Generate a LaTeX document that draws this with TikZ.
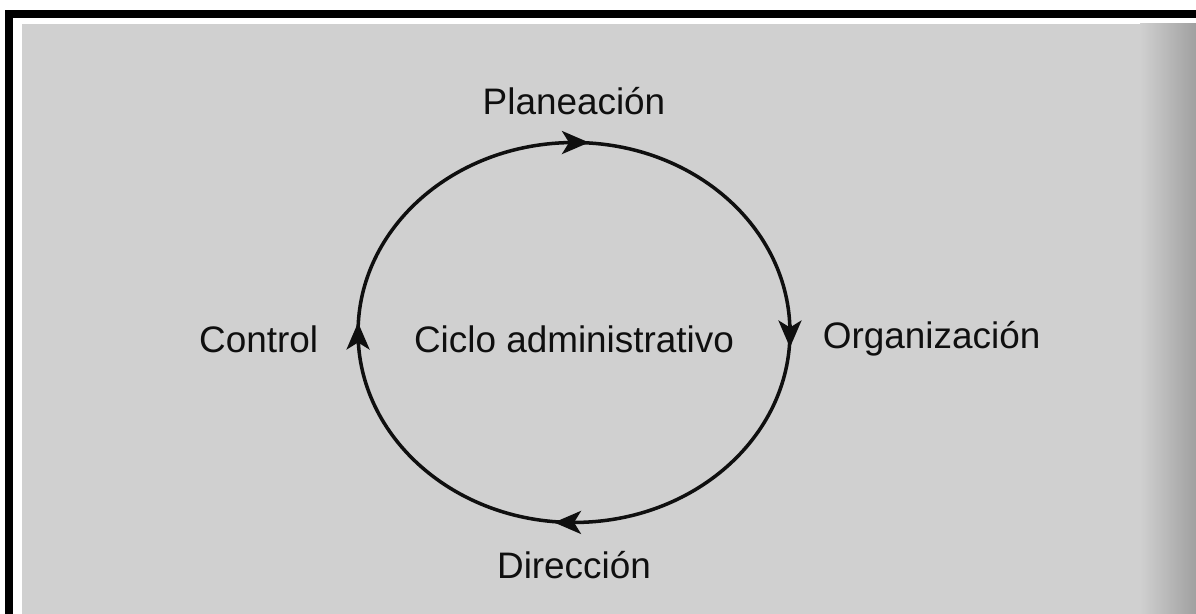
\documentclass[tikz,border=0pt]{standalone}
\usepackage{fontspec}
\setmainfont{Liberation Sans}
\usetikzlibrary{shapes.geometric, arrows.meta, positioning}
\newcommand{\cycleRx}{4.32cm}
\newcommand{\cycleRy}{3.8cm}
\newcommand{\tip}{{Stealth[length=5.4mm, width=4.6mm, inset=1.4mm]}}
\newcommand{\lineWidth}{2pt}
\newcommand{\fontSize}{21}
\newcommand{\textDrop}{-1.3mm}
\newcommand{\tipBack}{1.5mm}
\newcommand{\tipFront}{3mm}
\definecolor{lineColor}{RGB}{15, 15, 15}
\definecolor{paperGray}{RGB}{208,208,208}
\definecolor{edgeGray}{RGB}{160,160,160}
\tikzstyle{panel}=[draw=none, inner sep=0, outer sep=0]
\tikzstyle{line}=[draw=lineColor, line width=\lineWidth]
\tikzstyle{cycle}=[panel, line, ellipse, minimum width=2*\cycleRx, minimum height=2*\cycleRy]
\tikzstyle{arrow}=[line, -\tip]
\tikzstyle{textNode}=[panel, draw=none, text=lineColor, font=\fontsize{\fontSize}{\fontSize}\selectfont]

\begin{document}
\begin{tikzpicture}[x=0.02cm, y=0.02cm]

% Frame
\useasboundingbox (0,0) rectangle (1196,614);
\fill[paperGray] (22,0) rectangle (1196,590);
\shade[left color=paperGray, right color=edgeGray] (1140,0) rectangle (1196,590);
\draw[line width=1.6mm, black] (9,0) -- (9,599.5) -- (1196,599.5);

% Cycle
\node[cycle] (ciclo) at (574,281.5) {};
\node[textNode, yshift=\textDrop] (cicloText) at (ciclo.center) {Ciclo administrativo};
% Arrow heads (clockwise)
\draw[arrow] ([xshift=-\tipBack]ciclo.north) -- ([xshift=\tipFront]ciclo.north);
\draw[arrow] ([yshift=\tipBack]ciclo.east) -- ([yshift=-\tipFront]ciclo.east);
\draw[arrow] ([xshift=\tipBack]ciclo.south) -- ([xshift=-\tipFront-1mm]ciclo.south);
\draw[arrow] ([yshift=-\tipBack]ciclo.west) -- ([yshift=\tipFront-1mm]ciclo.west);

% Labels
\node[textNode, above=5.6mm of ciclo.north] (plan) {Planeación};
\node[textNode, right=6.6mm of ciclo.east, yshift=\textDrop] (org) {Organización};
\node[textNode, below=5.8mm of ciclo.south] (dir) {Dirección};
\node[textNode, left=8mm of ciclo.west, yshift=\textDrop] (ctrl) {Control};

\end{tikzpicture}
\end{document}
